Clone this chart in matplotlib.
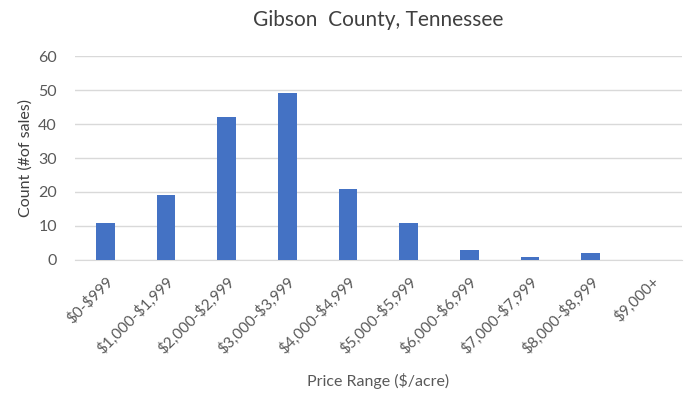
import matplotlib
matplotlib.use("Agg")
import matplotlib.pyplot as plt

categories = ["$0-$999", "$1,000-$1,999", "$2,000-$2,999", "$3,000-$3,999",
              "$4,000-$4,999", "$5,000-$5,999", "$6,000-$6,999", "$7,000-$7,999",
              "$8,000-$8,999", "$9,000+"]
counts = [11, 19, 42, 49, 21, 11, 3, 1, 2, 0]
yticks = [0, 10, 20, 30, 40, 50, 60]

plt.rcParams['font.family'] = ['Lato', 'DejaVu Sans']
text_color = "#595959"

fig = plt.figure(figsize=(6.91, 3.95), dpi=100)
ax = fig.add_axes([0.1085, 0.342, 0.878, 0.516])

x = range(len(categories))
ax.bar(x, counts, width=0.31, color="#4472C4", zorder=3)

ax.set_xlim(-0.5, len(categories) - 0.5)
ax.set_ylim(0, 60)
ax.set_yticks(yticks)
ax.set_yticklabels([str(v) for v in yticks], color=text_color, fontsize=11.5)
ax.set_xticks(list(x))
ax.set_xticklabels(categories, rotation=45, ha="right", rotation_mode="anchor",
                   color=text_color, fontsize=11, parse_math=False)
ax.tick_params(axis="y", length=0, pad=13)
ax.tick_params(axis="x", length=0, pad=10)

ax.grid(axis="y", color="#D9D9D9", linewidth=1, zorder=0)
for side in ["top", "right", "left"]:
    ax.spines[side].set_visible(False)
ax.spines["bottom"].set_color("#D9D9D9")

ax.set_title("Gibson  County, Tennessee", fontsize=15, color="#404040", pad=22)
ax.set_ylabel("Count (#of sales)", fontsize=11.5, color="#404040", labelpad=4)
ax.set_xlabel("Price Range ($/acre)", fontsize=11.5, color=text_color, labelpad=12,
              parse_math=False)

fig.savefig("out.png", dpi=100)
